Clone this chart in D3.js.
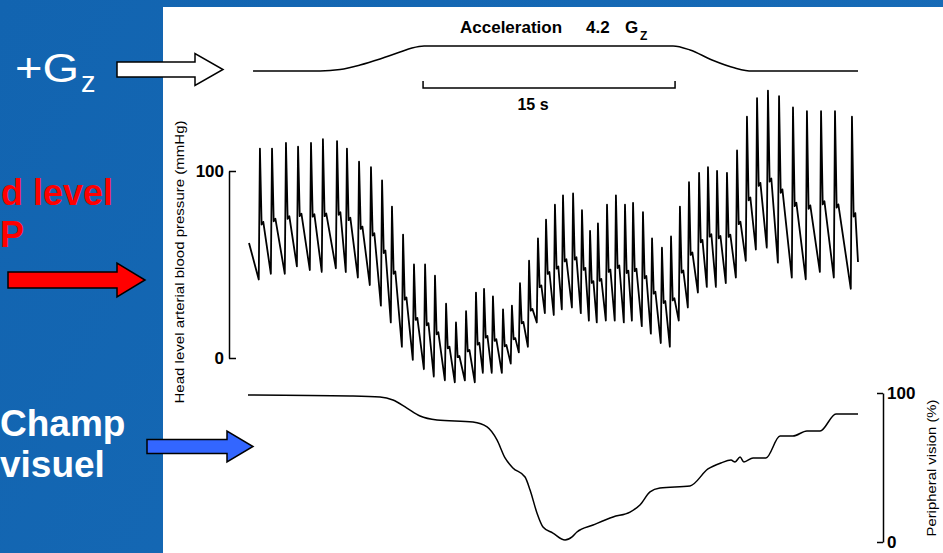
<!DOCTYPE html>
<html>
<head>
<meta charset="utf-8">
<script src="https://cdn.jsdelivr.net/npm/d3@7"></script>
<style>
  html, body { margin: 0; padding: 0; background: #fff; }
  svg { display: block; font-family: "Liberation Sans", Arial, sans-serif; }
</style>
</head>
<body>
<div id="chart"></div>
<script>
// data (time in s from start of recording)
const accelTime = [0.30, 4.29, 5.48, 6.67, 7.86, 9.05, 9.76, 10.48, 25.30, 26.31, 27.62, 28.99, 30.00, 36.31];
const accelG    = [1.0, 1.0, 1.19, 1.77, 2.54, 3.43, 3.94, 4.2, 4.2, 3.69, 2.41, 1.38, 1.0, 1.0];

// one entry per heart beat: time of systolic peak, peak and preceding trough (mmHg)
const beatTime = [0.71, 1.43, 2.26, 2.98, 3.75, 4.46, 5.30, 5.89, 6.61, 7.32,
  7.98, 8.57, 9.23, 9.88, 10.54, 11.13, 11.79, 12.38, 12.98, 13.57,
  14.05, 14.58, 15.18, 15.71, 16.19, 16.73, 17.26, 17.74, 18.27, 18.75,
  19.35, 19.88, 20.36, 20.83, 21.37, 21.90, 22.44, 22.92, 23.51, 24.05,
  24.64, 25.18, 25.71, 26.25, 26.85, 27.38, 27.92, 28.51, 29.11, 29.70,
  30.30, 30.95, 31.61, 32.44, 33.27, 34.11, 34.94, 35.95];
const beatPeak = [112, 112, 115, 113, 115, 117, 116, 112, 105, 102,
  95, 81, 66, 50, 50, 44, 29, 19, 25, 35,
  37, 33, 26, 28, 40, 52, 64, 74, 82, 87,
  88, 79, 68, 72, 82, 87, 82, 83, 78, 64,
  59, 65, 81, 94, 99, 102, 100, 99, 111, 129,
  139, 143, 140, 134, 132, 132, 132, 129];
const beatTrough = [42, 45, 45, 49, 47, 46, 48, 46, 43, 39,
  28, 19, 6, -1, -6, -10, -12, -13, -12, -13,
  -8, -8, -8, -3, 3, 6, 19, 24, 23, 26,
  27, 24, 20, 19, 20, 20, 19, 20, 17, 13,
  8, 6, 20, 27, 35, 38, 38, 40, 43, 52,
  58, 59, 51, 43, 42, 46, 43, 37];
const bpStart = [0.06, 61.5];
const bpEnd = [36.31, 51.3];

const visionTime = [0, 6.07, 7.86, 8.63, 9.46, 10.24, 11.25, 13.39, 14.23, 14.82,
  15.30, 15.77, 16.49, 16.79, 17.20, 17.56, 18.15, 18.87, 19.29, 19.58,
  20.54, 21.73, 22.74, 23.33, 23.93, 24.52, 26.31, 27.38, 28.15, 28.75,
  28.99, 29.29, 29.52, 30.06, 30.83, 31.67, 32.44, 33.27, 34.05, 35.00, 36.31];
const visionPct = [98.7, 98.0, 97.3, 95.3, 89.9, 84.6, 81.9, 80.5, 77.2, 68.5,
  56.4, 49.7, 43.6, 34.9, 19.5, 10.1, 6.0, 1.3, 3.4, 6.7,
  11.4, 16.8, 20.1, 24.8, 33.6, 36.2, 37.6, 49.0, 53.0, 55.0,
  53.7, 57.0, 53.7, 56.4, 56.4, 71.1, 71.1, 74.5, 74.5, 85.9, 85.9];

const scaleBar = [10.42, 25.42];
const bpTicks = [0, 100];
const visionTicks = [0, 100];

// layout
const W = 943, H = 553;
const svg = d3.select('#chart').append('svg')
  .attr('width', W).attr('height', H);

const grad = svg.append('defs').append('linearGradient')
  .attr('id', 'bg').attr('x1', 0).attr('x2', 1).attr('y1', 0).attr('y2', 0.3);
grad.append('stop').attr('offset', '0%').attr('stop-color', '#1264b0');
grad.append('stop').attr('offset', '100%').attr('stop-color', '#176bb7');

svg.append('rect').attr('width', W).attr('height', H).attr('fill', 'url(#bg)');
svg.append('rect').attr('x', 163).attr('y', 7).attr('width', W - 163).attr('height', H - 7).attr('fill', '#fff');

// scales
const x = d3.scaleLinear().domain([0, 36.5]).range([248, 248 + 36.5 * 16.8]);
const yAcc = d3.scaleLinear().domain([1, 4.2]).range([71, 46]);
const yBp = d3.scaleLinear().domain([0, 100]).range([358, 171]);
const yVis = d3.scaleLinear().domain([0, 100]).range([542, 393]);

// acceleration trace
const accel = accelTime.map((t, i) => [t, accelG[i]]);
svg.append('path')
  .datum(accel)
  .attr('fill', 'none').attr('stroke', '#000').attr('stroke-width', 1.5)
  .attr('d', d3.line().x(d => x(d[0])).y(d => yAcc(d[1])).curve(d3.curveMonotoneX));

const accLabel = svg.append('text').attr('font-weight', 'bold').attr('font-size', 17).attr('fill', '#000');
accLabel.append('tspan').attr('x', 460).attr('y', 33).text('Acceleration');
accLabel.append('tspan').attr('x', 586).attr('y', 33).text('4.2');
accLabel.append('tspan').attr('x', 625).attr('y', 33).text('G');
accLabel.append('tspan').attr('x', 640).attr('y', 40).attr('font-size', 12).text('Z');

// 15 s scale bar
svg.append('path')
  .attr('fill', 'none').attr('stroke', '#000').attr('stroke-width', 1.5)
  .attr('d', `M${x(scaleBar[0])},81V88H${x(scaleBar[1])}V81`);
svg.append('text')
  .attr('x', 533).attr('y', 110).attr('text-anchor', 'middle')
  .attr('font-weight', 'bold').attr('font-size', 16).text('15 s');

// blood pressure: each beat drawn trough -> systolic spike -> dicrotic shoulder -> decay
const bp = [bpStart];
beatTime.forEach((t, i) => {
  const tr = beatTrough[i], pk = beatPeak[i], amp = pk - tr;
  bp.push([t - 0.07, tr]);
  bp.push([t, pk]);
  bp.push([t + 0.1, tr + 0.42 * amp]);
  bp.push([t + 0.2, tr + 0.44 * amp]);
});
bp.push(bpEnd);
svg.append('path')
  .datum(bp)
  .attr('fill', 'none').attr('stroke', '#000').attr('stroke-width', 1.8)
  .attr('stroke-linejoin', 'round')
  .attr('d', d3.line().x(d => x(d[0])).y(d => yBp(d[1])));

const bpAxis = svg.append('g')
  .attr('transform', 'translate(229,0)')
  .call(d3.axisLeft(yBp).tickValues(bpTicks).tickSize(-7).tickSizeOuter(0).tickPadding(5));
bpAxis.select('.domain').attr('stroke-width', 1.5);
bpAxis.selectAll('.tick line').attr('stroke-width', 1.5);
bpAxis.selectAll('.tick text')
  .attr('font-family', '"Liberation Sans", Arial, sans-serif')
  .attr('font-size', 17).attr('font-weight', 'bold').attr('fill', '#000');

svg.append('text')
  .attr('transform', 'translate(184,262) rotate(-90)')
  .attr('text-anchor', 'middle').attr('font-size', 13)
  .attr('textLength', 283).attr('lengthAdjust', 'spacingAndGlyphs')
  .text('Head level arterial blood pressure (mmHg)');

// peripheral vision
const vis = visionTime.map((t, i) => [t, visionPct[i]]);
svg.append('path')
  .datum(vis)
  .attr('fill', 'none').attr('stroke', '#000').attr('stroke-width', 1.5)
  .attr('d', d3.line().x(d => x(d[0])).y(d => yVis(d[1])).curve(d3.curveMonotoneX));

const visAxis = svg.append('g')
  .attr('transform', 'translate(883,0)')
  .call(d3.axisRight(yVis).tickValues(visionTicks).tickSize(-6).tickSizeOuter(0).tickPadding(4));
visAxis.select('.domain').attr('stroke-width', 1.5);
visAxis.selectAll('.tick line').attr('stroke-width', 1.5);
visAxis.selectAll('.tick text')
  .attr('font-family', '"Liberation Sans", Arial, sans-serif')
  .attr('font-size', 17).attr('font-weight', 'bold').attr('fill', '#000');

svg.append('text')
  .attr('transform', 'translate(936,468) rotate(-90)')
  .attr('text-anchor', 'middle').attr('font-size', 13)
  .attr('textLength', 137).attr('lengthAdjust', 'spacingAndGlyphs')
  .text('Peripheral vision (%)');

// slide annotations on the blue panel
const gz = svg.append('text').attr('fill', '#fff');
gz.append('tspan').attr('x', 15).attr('y', 82).attr('font-size', 40)
  .attr('textLength', 64).attr('lengthAdjust', 'spacingAndGlyphs').text('+G');
gz.append('tspan').attr('x', 81).attr('y', 92).attr('font-size', 29).text('z');

svg.append('text').attr('fill', '#ff0000').attr('font-weight', 'bold').attr('font-size', 36)
  .attr('x', 1).attr('y', 205).text('d level');
svg.append('text').attr('fill', '#ff0000').attr('font-weight', 'bold').attr('font-size', 36)
  .attr('x', 0).attr('y', 247).text('P');

const champ = svg.append('text').attr('fill', '#fff').attr('font-weight', 'bold').attr('font-size', 37);
champ.append('tspan').attr('x', 0).attr('y', 436).text('Champ');
champ.append('tspan').attr('x', 0).attr('y', 477).text('visuel');

function arrow(x0, x1, x2, yc, hs, hh, fill) {
  return svg.append('path')
    .attr('d', `M${x0},${yc - hs}H${x1}V${yc - hh}L${x2},${yc}L${x1},${yc + hh}V${yc + hs}H${x0}Z`)
    .attr('fill', fill).attr('stroke', '#000').attr('stroke-width', 1.5);
}
arrow(117, 195, 223, 69.5, 7.5, 16, '#fff');
arrow(8, 117, 145, 280, 8, 17, '#ff0000');
arrow(147, 227, 253, 446.5, 7, 15.5, '#3366ff');
</script>
</body>
</html>
